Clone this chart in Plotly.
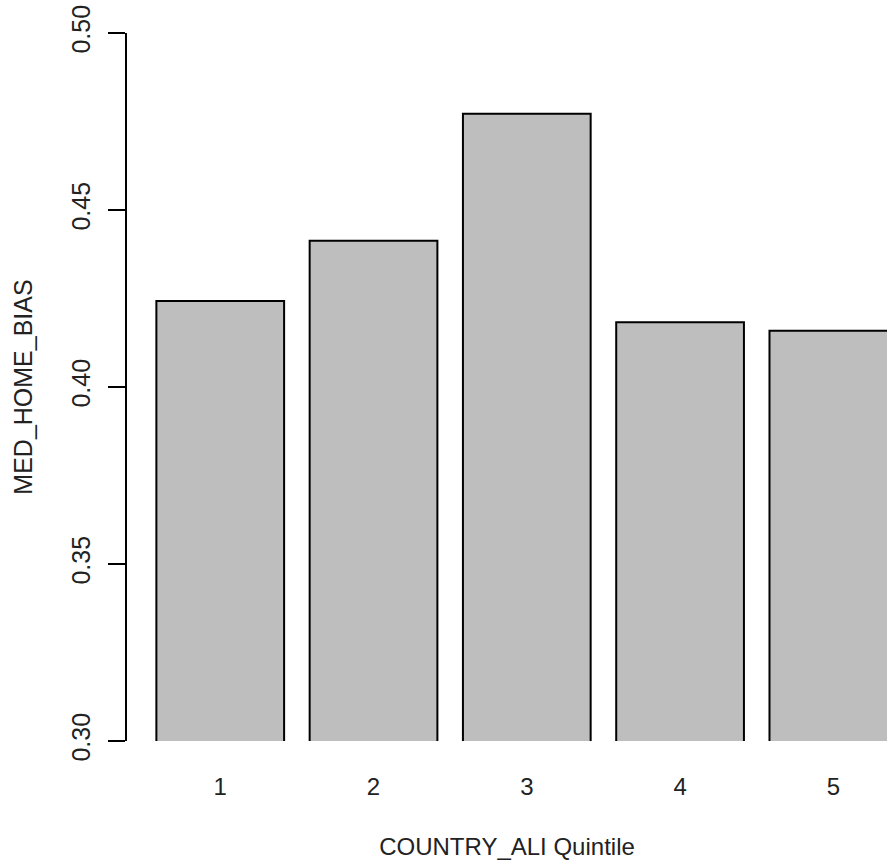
import plotly.graph_objects as go

categories = ["1", "2", "3", "4", "5"]
med_home_bias = [0.4243, 0.4413, 0.4772, 0.4183, 0.4159]
y_ticks = [0.30, 0.35, 0.40, 0.45, 0.50]
y_tick_labels = ["0.30", "0.35", "0.40", "0.45", "0.50"]

# R barplot layout: width 1, space 0.2
x_pos = [0.7 + 1.2 * i for i in range(len(categories))]

fig = go.Figure(
    go.Bar(
        x=x_pos,
        y=med_home_bias,
        width=1.0,
        marker=dict(color="#BEBEBE", line=dict(color="#000000", width=2)),
        hoverinfo="skip",
    )
)

font_family = "Liberation Sans, Arial, sans-serif"

fig.update_layout(
    width=887,
    height=864,
    margin=dict(l=127, r=0, t=33, b=123),
    plot_bgcolor="white",
    paper_bgcolor="white",
    showlegend=False,
    font=dict(family=font_family, size=24, color="#222222"),
    xaxis=dict(
        range=[-0.03, 5.92],
        tickvals=x_pos,
        ticktext=categories,
        showline=False,
        showgrid=False,
        zeroline=False,
        ticks="",
        automargin=False,
        ticklabelstandoff=29,
        tickfont=dict(size=24),
        title=dict(text="COUNTRY_ALI Quintile", standoff=39, font=dict(size=24)),
    ),
    yaxis=dict(
        range=[0.30, 0.50],
        tickvals=y_ticks,
        ticktext=y_tick_labels,
        tickangle=-90,
        showline=True,
        linecolor="#000000",
        linewidth=1.5,
        ticks="outside",
        ticklen=17,
        tickwidth=1.5,
        tickcolor="#000000",
        showgrid=False,
        zeroline=False,
        automargin=False,
        ticklabelstandoff=8,
        ticklabeloverflow="allow",
        tickfont=dict(size=25),
        title=dict(text="MED_HOME_BIAS", standoff=28, font=dict(size=25)),
    ),
)

fig.write_html(
    "out.html",
    config={"displayModeBar": False},
    post_script="document.body.style.margin='0';document.body.style.overflow='hidden';",
)
